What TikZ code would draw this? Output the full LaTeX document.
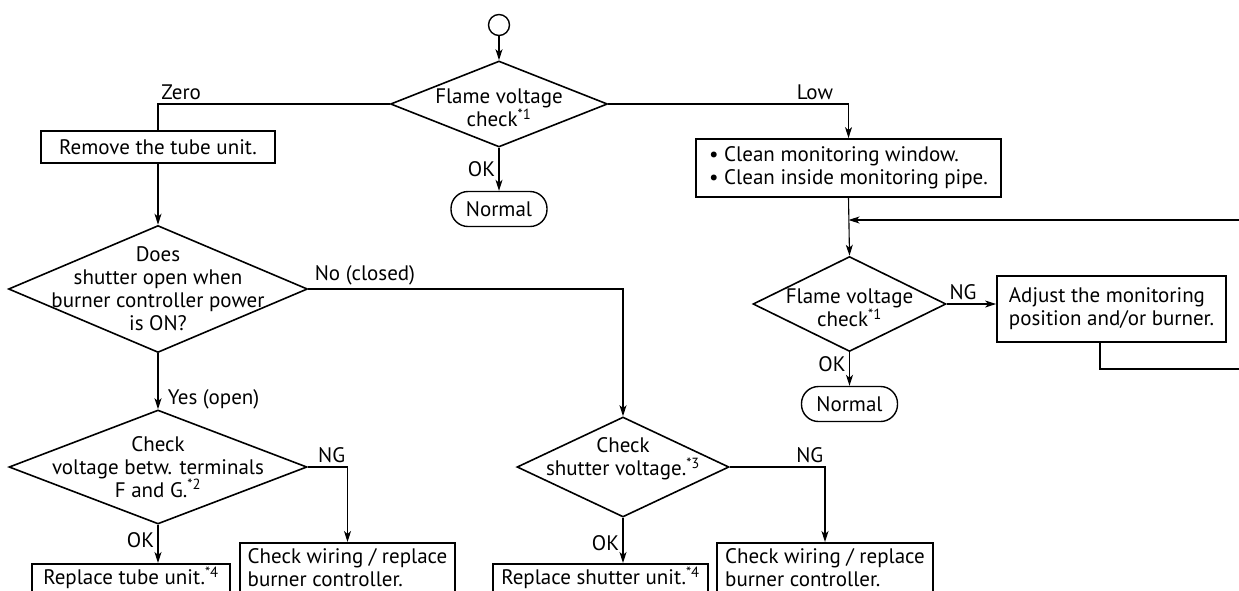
\documentclass[tikz,border=0pt]{standalone}
\usepackage{fontspec}
\setmainfont{PT Sans}
\usetikzlibrary{arrows.meta,shapes.geometric}
\begin{document}
\begin{tikzpicture}[x=1pt,y=-1pt,
		every node/.style={font=\fontsize{21}{23}\selectfont},
		box/.style={draw,line width=1.8pt,inner sep=3pt,align=left},
		dia/.style={draw,diamond,line width=1.6pt,inner sep=0pt},
		term/.style={draw,line width=1.4pt,rounded corners=17pt,minimum width=96pt,minimum height=35pt},
		conn/.style={line width=1.1pt},
		flow/.style={conn,-{Stealth[length=11pt,width=7pt,inset=3pt]}}]
		\useasboundingbox (0,0) rectangle (1239,590);
		\clip (0,0) rectangle (1239,590);
		\node[draw,circle,line width=1.4pt,minimum size=21pt,inner sep=0pt] (start) at (499,25) {};
		\node[dia,minimum width=217pt,minimum height=86pt,label={[align=center,yshift=-4pt]center:Flame voltage\\check\textsuperscript{*1}}] (fv) at (499,104) {};
		\node[term] (nrm) at (499,209) {Normal};
		\node[box,minimum width=234pt,minimum height=32pt] (rm) at (158,147) {Remove the tube unit.};
		\node[dia,minimum width=299pt,minimum height=127pt,label={[align=center]center:Does\\shutter open when\\burner controller power\\is ON?}] (sht) at (158,289) {};
		\node[dia,minimum width=298pt,minimum height=114pt,label={[align=center]center:Check\\voltage betw. terminals\\F and G.\textsuperscript{*2}}] (fg) at (158,467) {};
		\node[box,anchor=north,minimum width=198pt,minimum height=28pt] (tube) at (131,563) {Replace tube unit.\textsuperscript{*4}};
		\node[box,anchor=north,minimum width=215pt,minimum height=50pt] (wir) at (347.5,542) {Check wiring / replace\\burner controller.};
		\node[dia,minimum width=212pt,minimum height=100pt,label={[align=center,yshift=8pt]center:Check\\shutter voltage.\textsuperscript{*3}}] (shv) at (623,467) {};
		\node[box,anchor=north,minimum width=215pt,minimum height=28pt] (shu) at (600.5,563) {Replace shutter unit.\textsuperscript{*4}};
		\node[box,anchor=north,minimum width=216pt,minimum height=50pt] (wirb) at (825,542) {Check wiring / replace\\burner controller.};
		\node[box,minimum width=305pt,minimum height=58pt] (cln) at (848.5,168) {\textbullet{} Clean monitoring window.\\\textbullet{} Clean inside monitoring pipe.};
		\node[dia,minimum width=193pt,minimum height=95pt,label={[align=center,yshift=-4pt]center:Flame voltage\\check\textsuperscript{*1}}] (fvb) at (849.5,304) {};
		\node[box,minimum width=229pt,minimum height=66pt] (adj) at (1111.5,309) {Adjust the monitoring\\position and/or burner.};
		\node[term] (nrmb) at (849.5,404) {Normal};
		\coordinate (loopr) at (1260,369);
		\coordinate (loopt) at (1260,220);
		\draw[flow] (start) -- (fv.north);
		\draw[flow] (fv.south) -- node[left] (ok) {OK} (nrm.north);
		\draw[conn] (fv.west) -| node[pos=.45,above] (zero) {Zero} (rm.north);
		\draw[flow] (fv.east) -| node[pos=.43,above] (low) {Low} (cln.north);
		\draw[flow] (rm.south) -- (sht.north);
		\draw[flow] (sht.east) -| node[pos=.09,above] (no) {No (closed)} (shv.north);
		\draw[flow] (sht.south) -- node[pos=.82,right=6pt] (yes) {Yes (open)} (fg.north);
		\draw[flow] (fg.south) -- node[pos=.4,left] (okb) {OK} (fg.south |- tube.north);
		\draw[flow] (fg.east) -| node[pos=.3,above] (ng) {NG} (wir.north);
		\draw[flow] (shv.south) -- node[pos=.55,left] (okc) {OK} (shv.south |- shu.north);
		\draw[flow] (shv.east) -| node[pos=.42,above] (ngb) {NG} (wirb.north);
		\draw[flow] (cln.south) -- (fvb.north);
		\draw[flow] (fvb.south) -- node[pos=.35,left] (okd) {OK} (nrmb.north);
		\draw[flow] (fvb.east) -- node[pos=.33,above] (ngc) {NG} (fvb.east -| adj.west);
		\draw[flow] ([xshift=-11.5pt]adj.south) |- (loopr) -- (loopt) -- (loopt -| cln.south);
	\end{tikzpicture}
\end{document}
